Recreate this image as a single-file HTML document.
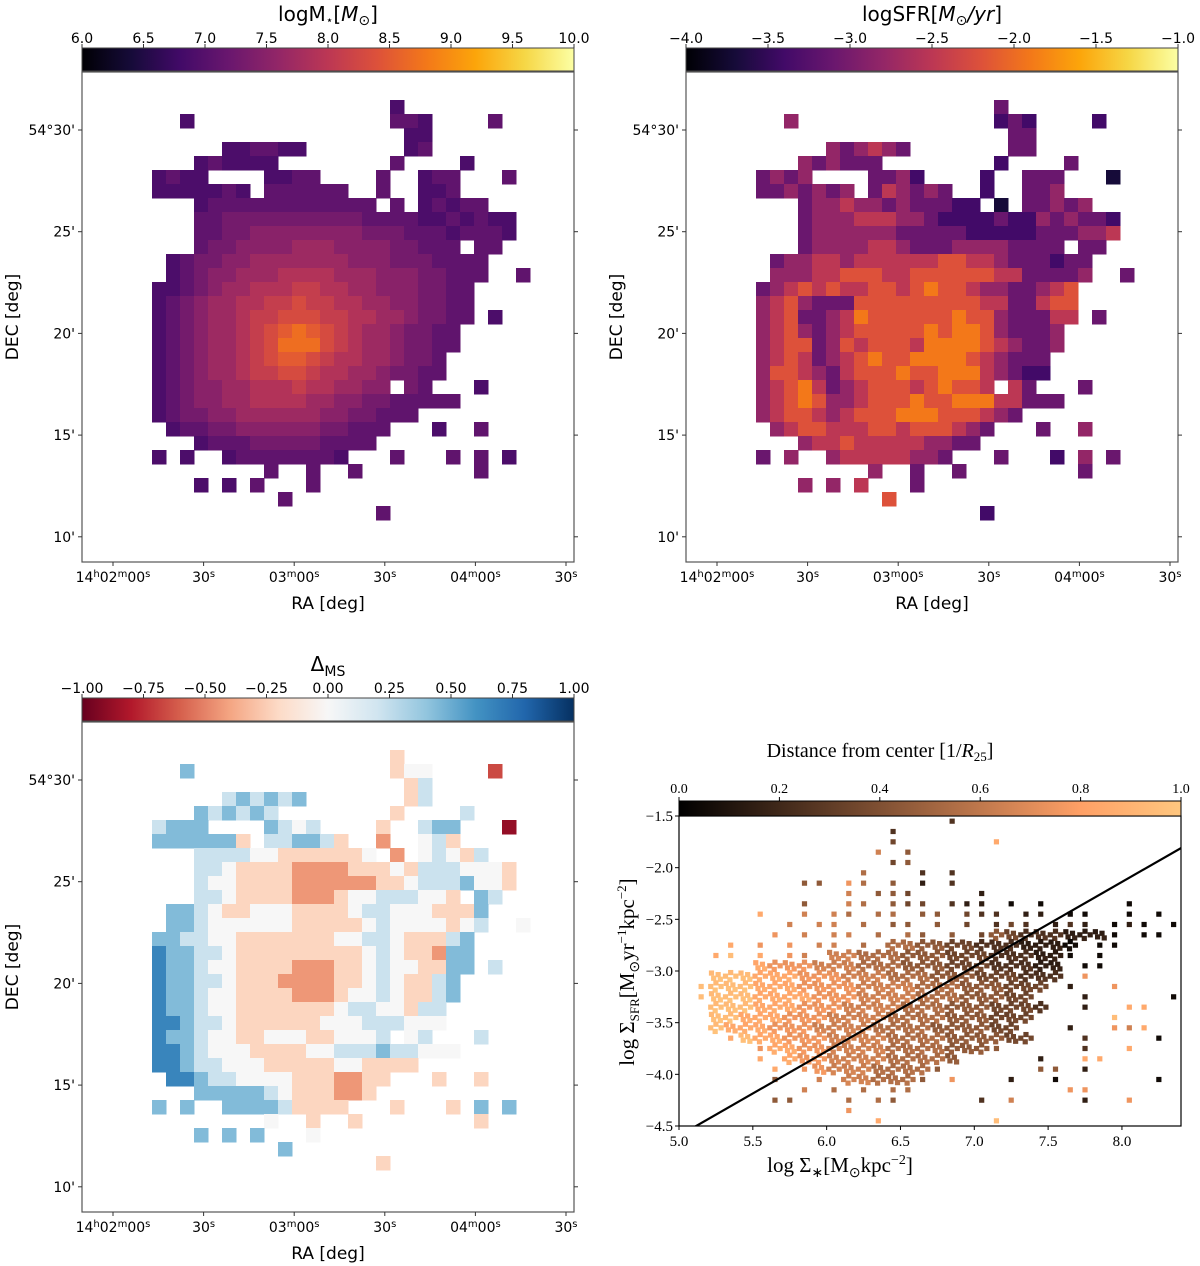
<!DOCTYPE html>
<html><head><meta charset="utf-8"><title>Galaxy maps</title>
<style>
html,body{margin:0;padding:0;background:#fff;}
svg{display:block;}
.tk{font-family:"DejaVu Sans","Liberation Sans",sans-serif;font-size:14px;fill:#000;}
.tt{font-family:"DejaVu Sans","Liberation Sans",sans-serif;font-size:20px;fill:#000;}
.al{font-family:"DejaVu Sans","Liberation Sans",sans-serif;font-size:17px;fill:#000;}
.sf{font-family:"Liberation Serif",serif;font-size:15px;fill:#000;}
.sfl{font-family:"Liberation Serif",serif;font-size:21px;fill:#000;}
</style></head>
<body>
<svg id="fig" width="1200" height="1266" viewBox="0 0 1200 1266" xmlns="http://www.w3.org/2000/svg">
<defs>
<linearGradient id="gInferno" x1="0" x2="1" y1="0" y2="0">
<stop offset="0" stop-color="#000004"/><stop offset="0.1" stop-color="#160b39"/><stop offset="0.2" stop-color="#420a68"/><stop offset="0.3" stop-color="#6a176e"/><stop offset="0.4" stop-color="#932667"/><stop offset="0.5" stop-color="#bc3754"/><stop offset="0.6" stop-color="#dd513a"/><stop offset="0.7" stop-color="#f37819"/><stop offset="0.8" stop-color="#fca50a"/><stop offset="0.9" stop-color="#f6d746"/><stop offset="1" stop-color="#fcffa4"/>
</linearGradient>
<linearGradient id="gRdBu" x1="0" x2="1" y1="0" y2="0">
<stop offset="0" stop-color="#67001f"/><stop offset="0.1" stop-color="#b2182b"/><stop offset="0.2" stop-color="#d6604d"/><stop offset="0.3" stop-color="#f4a582"/><stop offset="0.4" stop-color="#fddbc7"/><stop offset="0.5" stop-color="#f7f7f7"/><stop offset="0.6" stop-color="#d1e5f0"/><stop offset="0.7" stop-color="#92c5de"/><stop offset="0.8" stop-color="#4393c3"/><stop offset="0.9" stop-color="#2166ac"/><stop offset="1" stop-color="#053061"/>
</linearGradient>
<linearGradient id="gCopper" x1="0" x2="1" y1="0" y2="0">
<stop offset="0" stop-color="#000000"/><stop offset="0.8" stop-color="#ffa066"/><stop offset="1" stop-color="#ffc77f"/>
</linearGradient>
</defs>
</svg>
<script>
// ---------- DATA ----------
// map segments: [row, startCol, digit string]; '.' = no data
const massSegs = [
[2,22,"0"],[3,7,"0"],[3,22,"110"],[3,29,"1"],[4,23,"00"],
[5,10,"001100"],[5,23,"01"],[6,8,"010000"],[6,22,"1"],[6,27,"0"],
[7,5,"0100"],[7,13,"0011"],[7,21,"1"],[7,24,"011"],[7,30,"1"],
[8,5,"0000010"],[8,13,"111111"],[8,21,"1"],[8,24,"001"],
[9,8,"0111111111111"],[9,22,"1"],[9,24,"0101"],[9,28,"1"],
[10,8,"1122222222221111"],[10,24,"0010100"],
[11,8,"11223333333322211101110"],[12,8,"1223333444333322111.11"],
[13,6,"01223344444443332221111"],[14,6,"01233444555544433322111"],[14,31,"1"],
[15,5,"00123445556655443332211"],[16,5,"01234455667665544332211"],
[17,5,"01234456677766554432211"],[17,29,"0"],
[18,5,"0123445678987654432211"],[19,5,"0123445679997654432211"],
[20,5,"012344567887655443221"],[21,5,"012344566776554432211"],
[22,5,"01233445556554433.21"],[22,28,"0"],
[23,5,"0123344555544332211111"],
[24,5,"0122334444443322111"],
[25,6,"0112233333322111"],[25,25,"0"],[25,28,"1"],
[26,8,"0111222221111"],
[27,10,"011111110"],[27,5,"0"],[27,7,"0"],[27,22,"1"],[27,26,"1"],[27,28,"1"],[27,30,"0"],
[28,13,"1"],[28,16,"1"],[28,19,"1"],[28,28,"1"],
[29,8,"0"],[29,10,"0"],[29,12,"1"],[29,16,"1"],
[30,14,"1"],[31,21,"1"]
];
const sfrSegs = [
[2,22,"3"],[3,7,"4"],[3,22,"232"],[3,29,"2"],[4,23,"33"],
[5,10,"434543"],[5,23,"33"],[6,8,"434333"],[6,22,"2"],[6,27,"3"],
[7,5,"3434"],[7,13,"3342"],[7,21,"2"],[7,24,"333"],[7,30,"1"],
[8,5,"3343434"],[8,13,"354343"],[8,21,"2"],[8,24,"334"],
[9,8,"3445443433322"],[9,22,"1"],[9,24,"3343"],[9,28,"4"],
[10,8,"3444555443222232"],[10,24,"2434332"],
[11,8,"34444443333322222333445"],[12,8,"3444455433344443333.33"],
[13,6,"34455455555566554333233"],[14,6,"44455666556666665533334"],[14,31,"3"],
[15,5,"34565655665676654433456"],[16,5,"45643336666666665533566"],
[17,5,"45633457666666766433355"],[17,29,"3"],
[18,5,"4564345666667677643334"],[19,5,"4566346566657777654334"],
[20,5,"456534567667777654333"],[21,5,"466543566676677754322"],
[22,5,"45675345666567665.53"],[22,28,"3"],
[23,5,"4567644566676677755333"],
[24,5,"4566545666777666543"],
[25,6,"4566555665666543"],[25,25,"3"],[25,28,"4"],
[26,8,"4556555554433"],
[27,10,"455555443"],[27,5,"3"],[27,7,"4"],[27,22,"3"],[27,26,"2"],[27,28,"4"],[27,30,"3"],
[28,13,"4"],[28,16,"3"],[28,19,"3"],[28,28,"3"],
[29,8,"4"],[29,10,"4"],[29,12,"5"],[29,16,"3"],
[30,14,"6"],[31,21,"2"]
];
const dmsSegs = [
[2,22,"3"],[3,7,"6"],[3,22,"344"],[3,29,"1"],[4,23,"35"],
[5,10,"565656"],[5,23,"35"],[6,8,"656565"],[6,22,"3"],[6,27,"5"],
[7,5,"5666"],[7,13,"6545"],[7,21,"3"],[7,24,"566"],[7,30,"0"],
[8,5,"6666663"],[8,13,"556653"],[8,21,"2"],[8,24,"453"],
[9,8,"5555443333334"],[9,22,"2"],[9,24,"4543"],[9,28,"5"],
[10,8,"5543333222233343"],[10,24,"5554443"],
[11,8,"54433332222223345556443"],[12,8,"5543333222344555443.65"],
[13,6,"66543344433334554443336"],[14,6,"66544444433333454444345"],[14,31,"4"],
[15,5,"66554433333334455433356"],[16,5,"76655433333333345433266"],
[17,5,"76654433332223345443366"],[17,29,"5"],
[18,5,"7665543332222334543356"],[19,5,"7665443333222344543356"],
[20,5,"766544333333345544355"],[21,5,"776554333333444555444"],
[22,5,"76654433444334445.45"],[22,28,"5"],
[23,5,"7765444333344555655444"],
[24,5,"7765544433333443333"],
[25,6,"7765544443332233"],[25,25,"3"],[25,28,"3"],
[26,8,"6666654333223"],
[27,10,"666653333"],[27,5,"6"],[27,7,"6"],[27,22,"3"],[27,26,"3"],[27,28,"6"],[27,30,"6"],
[28,13,"4"],[28,16,"3"],[28,19,"3"],[28,28,"3"],
[29,8,"6"],[29,10,"6"],[29,12,"6"],[29,16,"4"],
[30,14,"6"],[31,21,"3"]
];
// scatter bins: [row(y bin from -1.5 down by 0.1), col(x bin from 5.0 by 0.1), string]
// digit = dense bin with distance d/10; letter a..j = single point with distance 0.0..0.9
const scatterBins = [
[0,18,"c"],[1,14,"c"],[2,14,"d"],[2,21,"i"],[3,13,"g"],[3,15,"e"],
[4,14,"d"],[4,15,"e"],[5,12,"f"],[5,16,"c"],[5,18,"c"],
[6,8,"ee"],[6,11,"hf"],[6,14,"e"],[6,16,"b"],[6,18,"c"],
[7,11,"g"],[7,13,"ee"],[7,15,"d"],[7,20,"b"],
[8,8,"e"],[8,11,"gf"],[8,14,"edd"],[8,18,"cbb"],[8,22,"a.a"],[8,30,"a"],
[9,5,"i"],[9,8,"g.gf.ff.ee.dcc.bb.aa..a.a.a"],
[10,7,"g.gg.f.ee.e.d.cdc.bcb.aba.a.a.a"],
[11,6,"h.g.gg.f.fe.e.d43222111a.aa"],
[12,3,"i.h.h.gg.f.5544332221110.aa"],
[13,2,"ij.i.hg.6655544433322211a.a"],
[14,5,"877766655544433322211.aa"],
[15,2,"999888777666555444333222.h"],
[16,1,"j99988877776666555444333.b..h"],
[17,1,"j9998888777666655544433...b.....a"],
[18,2,"99988877766665554443332..b..ii"],
[19,2,"9988877766665555444333.....j"],
[20,2,"988877766665555444433...b..hgi"],
[21,3,"i98877766665555444433...c....a"],
[22,5,"h887766665555444e.....c..i"],
[23,5,"i.877666655554.....b..ii"],
[24,6,"i.h76665555e......ee.b"],
[25,6,"e..g.66555e.h...b..a......a"],
[26,8,"g.f.f.ff..........hh"],
[27,6,"ee...f.fe.....c.g....b..h"],
[28,11,"h"],[29,13,"i"],[29,21,"j"]
];
const fitSlope = 0.819;
const fitIntercept = -8.69;
const massTicks = ["6.0","6.5","7.0","7.5","8.0","8.5","9.0","9.5","10.0"];
const sfrTicks = ["−4.0","−3.5","−3.0","−2.5","−2.0","−1.5","−1.0"];
const dmsTicks = ["−1.00","−0.75","−0.50","−0.25","0.00","0.25","0.50","0.75","1.00"];
const decTicks = ["54°30'","25'","20'","15'","10'"];
const raTicks = [["14","h","02","m","00","s"],["30","s"],["03","m","00","s"],["30","s"],["04","m","00","s"],["30","s"]];
const distTicks = ["0.0","0.2","0.4","0.6","0.8","1.0"];
const sxTicks = [5.0,5.5,6.0,6.5,7.0,7.5,8.0];
const syTicks = [-1.5,-2.0,-2.5,-3.0,-3.5,-4.0,-4.5];

// ---------- helpers ----------
const NS="http://www.w3.org/2000/svg";
const svg=document.getElementById('fig');
function el(tag,attrs,parent){const e=document.createElementNS(NS,tag);for(const k in attrs)e.setAttribute(k,attrs[k]);(parent||svg).appendChild(e);return e;}
function hex(h){return [parseInt(h.substr(1,2),16),parseInt(h.substr(3,2),16),parseInt(h.substr(5,2),16)];}
function cmap(stops){const c=stops.map(hex);return function(t){t=Math.max(0,Math.min(1,t));const p=t*(c.length-1);const i=Math.min(c.length-2,Math.floor(p));const f=p-i;const r=c[i].map((v,k)=>Math.round(v+(c[i+1][k]-v)*f));return 'rgb('+r.join(',')+')';};}
const inferno=cmap(["#000004","#160b39","#420a68","#6a176e","#932667","#bc3754","#dd513a","#f37819","#fca50a","#f6d746","#fcffa4"]);
const rdbu=cmap(["#67001f","#b2182b","#d6604d","#f4a582","#fddbc7","#f7f7f7","#d1e5f0","#92c5de","#4393c3","#2166ac","#053061"]);
function copper(t){t=Math.max(0,Math.min(1,t));return 'rgb('+Math.round(255*Math.min(1,1.25*t))+','+Math.round(255*0.7812*t)+','+Math.round(255*0.4975*t)+')';}

const CELL=14;
function mapPanel(name,ax,ay,segs,colorFn,title,grad,ticks){
  const g=el('g',{});
  
  
  const cbY=ay-24;
  const cb=el('rect',{x:ax,y:cbY,width:492,height:23,fill:'url(#'+grad+')',stroke:'#444','stroke-width':1},g);
  
  
  ticks.forEach((t,i)=>{
    const x=ax+i*492/(ticks.length-1);
    el('line',{x1:x,x2:x,y1:cbY,y2:cbY-4,stroke:'#333'},g);
    const tx=el('text',{x:x,y:cbY-5,'text-anchor':'middle',class:'tk'},g);tx.textContent=t;
    
    
  });
  const tt=el('text',{x:ax+246,y:cbY-27,'text-anchor':'middle',class:'tt'},g);
  tt.innerHTML=title;
  
  
  segs.forEach(s=>{
    for(let k=0;k<s[2].length;k++){
      const ch=s[2][k]; if(ch==='.')continue;
      const c=el('rect',{x:ax+(s[1]+k)*CELL,y:ay+s[0]*CELL,width:CELL+0.5,height:CELL+0.5,fill:colorFn(+ch)},g);
      
      
    }
  });
  const fr=el('rect',{x:ax,y:ay,width:492,height:490,fill:'none',stroke:'#555','stroke-width':1.2},g);
  
  
  decTicks.forEach((t,i)=>{
    const y=ay+58+i*101.7;
    el('line',{x1:ax,x2:ax-4,y1:y,y2:y,stroke:'#333'},g);
    el('line',{x1:ax+492,x2:ax+496,y1:y,y2:y,stroke:'#333'},g);
    const tx=el('text',{x:ax-7,y:y+5,'text-anchor':'end',class:'tk'},g);tx.textContent=t;
    
    
  });
  raTicks.forEach((parts,i)=>{
    const x=ax+31+i*90.6;
    el('line',{x1:x,x2:x,y1:ay+490,y2:ay+494,stroke:'#333'},g);
    const tx=el('text',{x:x,y:ay+510,'text-anchor':'middle',class:'tk'},g);
    let h='';for(let j=0;j<parts.length;j+=2){h+='<tspan>'+parts[j]+'</tspan>';if(parts[j+1])h+='<tspan baseline-shift="super" font-size="10">'+parts[j+1]+'</tspan>';}
    tx.innerHTML=h;
    
    
  });
  const xl=el('text',{x:ax+246,y:ay+537,'text-anchor':'middle',class:'al'},g);xl.textContent='RA [deg]';
  
  
  const yl=el('text',{x:0,y:0,'text-anchor':'middle',class:'al',transform:'translate('+(ax-64)+','+(ay+245)+') rotate(-90)'},g);yl.textContent='DEC [deg]';
  
  
}
mapPanel('stellar-mass-map',82,72,massSegs,d=>inferno((6.9+0.2*d-6)/4),'logM<tspan font-size="12" dy="3">⋆</tspan><tspan dy="-3">[</tspan><tspan font-style="italic">M</tspan><tspan font-size="14" dy="4">⊙</tspan><tspan dy="-4">]</tspan>','gInferno',massTicks);
mapPanel('sfr-map',686,72,sfrSegs,d=>inferno((-4.0+0.3*d+4)/3),'logSFR[<tspan font-style="italic">M</tspan><tspan font-size="14" dy="4">⊙</tspan><tspan dy="-4" font-style="italic">/yr</tspan>]','gInferno',sfrTicks);
mapPanel('delta-ms-map',82,722,dmsSegs,d=>rdbu(((d-4)*0.22+1)/2),'Δ<tspan font-size="14" dy="5">MS</tspan>','gRdBu',dmsTicks);

// ---------- scatter ----------
const SX0=679,SX1=1181,SY0=816,SY1=1126;
const xS=v=>SX0+(v-5.0)/(8.4-5.0)*(SX1-SX0);
const yS=v=>SY0+(-1.5-v)/3.0*(SY1-SY0);
const sg=el('g',{});


const clip=el('clipPath',{id:'sclip'},sg);el('rect',{x:SX0,y:SY0,width:SX1-SX0,height:SY1-SY0},clip);
const pts=el('g',{'clip-path':'url(#sclip)'},sg);
function marker(x,y,d){
  const m=el('rect',{x:xS(x)-2.6,y:yS(y)-2.6,width:5.2,height:5.2,fill:copper(d)},pts);
  
  
}
const patA=[[0.02,0.02],[0.065,0.035],[0.035,0.07],[0.08,0.08]];
const patB=[[0.05,0.015],[0.015,0.05],[0.085,0.05],[0.045,0.085]];
scatterBins.forEach(b=>{
  for(let k=0;k<b[2].length;k++){
    const ch=b[2][k]; if(ch==='.')continue;
    const bx=5.0+0.1*(b[1]+k), by=-1.5-0.1*b[0];
    if(ch>='0'&&ch<='9'){
      const d=(+ch)/10+0.05;
      const pat=((b[0]+b[1]+k)%2)?patA:patB;
      pat.forEach((o,j)=>marker(bx+o[0],by-o[1],d+(j-1.5)*0.015));
    } else {
      marker(bx+0.05,by-0.05,(ch.charCodeAt(0)-97)/10+0.05);
    }
  }
});
const fl=el('line',{x1:xS(5.0),y1:yS(fitSlope*5.0+fitIntercept),x2:xS(8.4),y2:yS(fitSlope*8.4+fitIntercept),stroke:'#000','stroke-width':2.2},pts);


const sfr=el('rect',{x:SX0,y:SY0,width:SX1-SX0,height:SY1-SY0,fill:'none',stroke:'#000','stroke-width':1.2},sg);


sxTicks.forEach(v=>{
  const x=xS(v);el('line',{x1:x,x2:x,y1:SY1,y2:SY1+4,stroke:'#000'},sg);
  const t=el('text',{x:x,y:SY1+20,'text-anchor':'middle',class:'sf'},sg);t.textContent=v.toFixed(1);
  
  
});
syTicks.forEach(v=>{
  const y=yS(v);el('line',{x1:SX0,x2:SX0-4,y1:y,y2:y,stroke:'#000'},sg);
  const t=el('text',{x:SX0-6,y:y+5,'text-anchor':'end',class:'sf'},sg);t.textContent='−'+Math.abs(v).toFixed(1);
  
  
});
const scb=el('rect',{x:SX0,y:801,width:SX1-SX0,height:15,fill:'url(#gCopper)',stroke:'#000','stroke-width':1},sg);


distTicks.forEach((t,i)=>{
  const x=SX0+i*(SX1-SX0)/(distTicks.length-1);
  el('line',{x1:x,x2:x,y1:801,y2:797,stroke:'#000'},sg);
  const tx=el('text',{x:x,y:793,'text-anchor':'middle',class:'sf',style:'font-size:14px'},sg);tx.textContent=t;
  
  
});
const st=el('text',{x:880,y:757,'text-anchor':'middle',class:'sfl',style:'font-size:20px'},sg);
st.innerHTML='Distance from center [1/<tspan font-style="italic">R</tspan><tspan font-size="13" dy="4">25</tspan><tspan dy="-4">]</tspan>';


const sx=el('text',{x:840,y:1172,'text-anchor':'middle',class:'sfl'},sg);
sx.innerHTML='log Σ<tspan font-size="14" dy="5">∗</tspan><tspan dy="-5">[M</tspan><tspan font-size="14" dy="5">⊙</tspan><tspan dy="-5">kpc</tspan><tspan font-size="14" dy="-8">−2</tspan><tspan dy="8">]</tspan>';


const sy=el('text',{x:0,y:0,'text-anchor':'middle',class:'sfl',transform:'translate(634,972) rotate(-90)'},sg);
sy.innerHTML='log Σ<tspan font-size="13" dy="5">SFR</tspan><tspan dy="-5">[M</tspan><tspan font-size="14" dy="5">⊙</tspan><tspan dy="-5">yr</tspan><tspan font-size="13" dy="-8">−1</tspan><tspan dy="8">kpc</tspan><tspan font-size="13" dy="-8">−2</tspan><tspan dy="8">]</tspan>';


</script>
</body></html>
